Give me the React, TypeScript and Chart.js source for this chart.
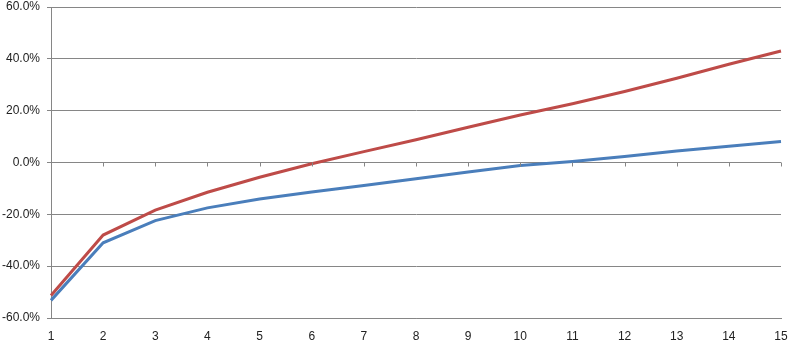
import React, { useEffect, useRef } from "react";
import { Chart, registerables } from "chart.js";

Chart.register(...registerables);

const categories = ["1", "2", "3", "4", "5", "6", "7", "8", "9", "10", "11", "12", "13", "14", "15"];
const redSeries = [-0.513, -0.28, -0.184, -0.115, -0.057, -0.005, 0.042, 0.088, 0.136, 0.183, 0.227, 0.274, 0.325, 0.379, 0.43];
const blueSeries = [-0.532, -0.31, -0.224, -0.175, -0.141, -0.114, -0.089, -0.063, -0.037, -0.012, 0.004, 0.023, 0.044, 0.063, 0.081];
const yMin = -0.6;
const yMax = 0.6;
const yStep = 0.2;

const zeroTicksPlugin = {
  id: "zeroTicks",
  afterDatasetsDraw(chart: any) {
    const x = chart.scales.x;
    const y = chart.scales.y;
    const ctx = chart.ctx;
    const y0 = y.getPixelForValue(0);
    ctx.save();
    ctx.strokeStyle = "#868686";
    ctx.lineWidth = 1;
    ctx.beginPath();
    for (let i = 0; i < categories.length; i++) {
      const px = Math.round(x.getPixelForValue(i)) + 0.5;
      ctx.moveTo(px, y0);
      ctx.lineTo(px, y0 + 4);
    }
    ctx.stroke();
    ctx.restore();
  },
};

export default function App() {
  const ref = useRef<HTMLCanvasElement | null>(null);
  useEffect(() => {
    document.body.style.margin = "0";
    const chart = new Chart(ref.current as HTMLCanvasElement, {
      type: "line",
      data: {
        labels: categories,
        datasets: [
          {
            data: blueSeries,
            borderColor: "#4A7EBB",
            borderWidth: 3,
            pointRadius: 0,
            tension: 0,
          },
          {
            data: redSeries,
            borderColor: "#BE4B48",
            borderWidth: 3,
            pointRadius: 0,
            tension: 0,
          },
        ],
      },
      options: {
        animation: false,
        responsive: false,
        layout: { padding: { top: 0, right: 23, left: 0, bottom: 0 } },
        plugins: { legend: { display: false }, tooltip: { enabled: false } },
        font: { family: "'Liberation Sans', Arial, sans-serif", size: 12 },
        scales: {
          x: {
            type: "category",
            offset: false,
            grid: { display: true, drawOnChartArea: false, drawTicks: false, color: "#868686" },
            border: { display: true, color: "#868686" },
            ticks: {
              padding: 11,
              color: "#222",
              maxRotation: 0,
              autoSkip: false,
              font: { family: "'Liberation Sans', Arial, sans-serif", size: 12 },
            },
            afterFit: (s: any) => {
              s.height = 36;
            },
          },
          y: {
            min: yMin,
            max: yMax,
            grid: { color: "#868686", tickLength: 4 },
            border: { display: true, color: "#868686" },
            ticks: {
              stepSize: yStep,
              padding: 7,
              color: "#222",
              font: { family: "'Liberation Sans', Arial, sans-serif", size: 12 },
              callback: (v: any) => (Number(v) * 100).toFixed(1) + "%",
            },
            afterFit: (s: any) => {
              s.width = 51;
              s.paddingTop = 7;
              s.paddingBottom = 0;
            },
          },
        },
      },
      plugins: [zeroTicksPlugin],
    } as any);
    return () => chart.destroy();
  }, []);
  return (
    <div style={{ width: 804, height: 354, position: "absolute", left: 0, top: 0, background: "#fff" }}>
      <canvas ref={ref} width={804} height={354} style={{ width: 804, height: 354 }} />
    </div>
  );
}
